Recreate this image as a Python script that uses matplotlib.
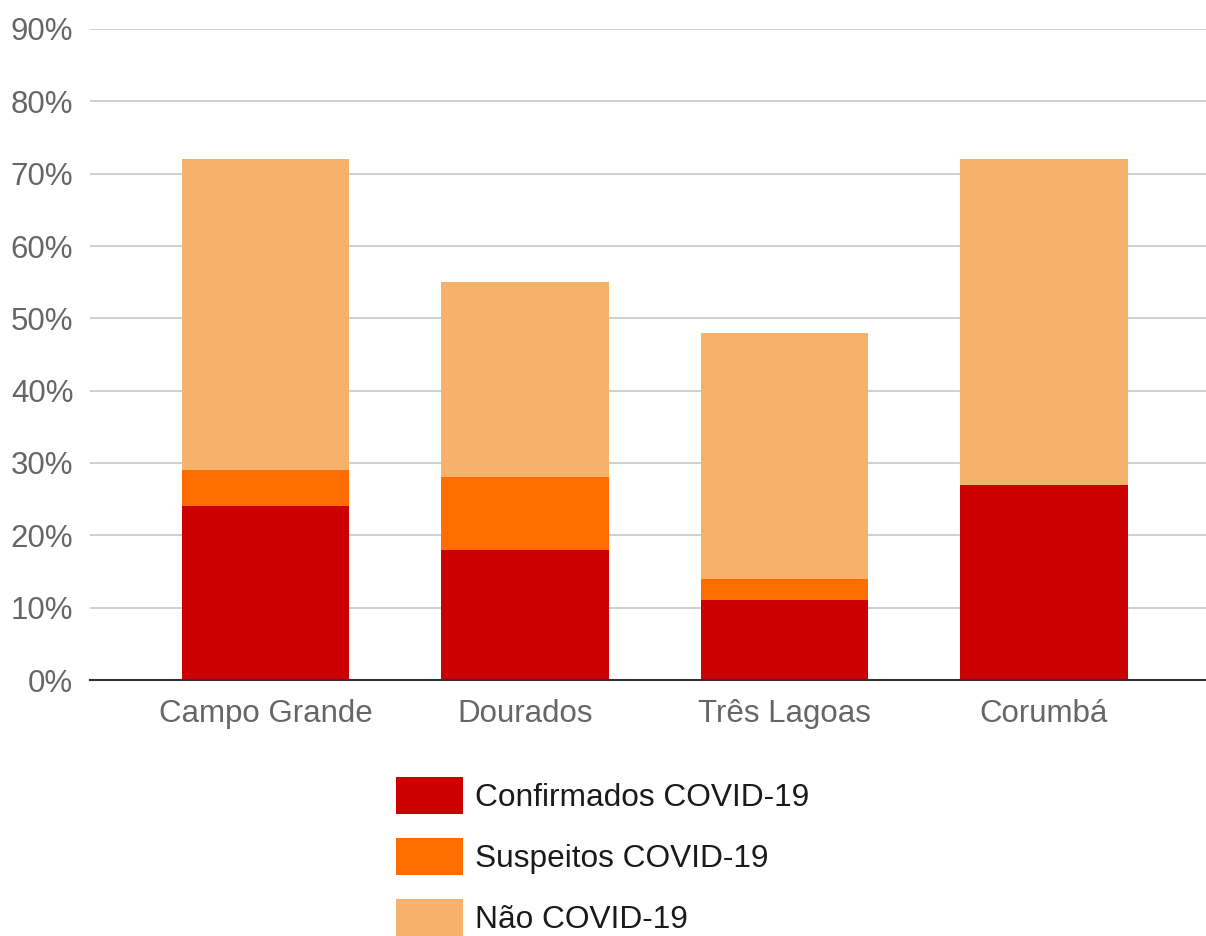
import matplotlib.pyplot as plt
from matplotlib import rcParams
from matplotlib.ticker import FuncFormatter

rcParams['font.family'] = ['Liberation Sans', 'DejaVu Sans']

# data (percent)
cities = ["Campo Grande", "Dourados", "Três Lagoas", "Corumbá"]
confirmados = [24, 18, 11, 27]
suspeitos = [5, 10, 3, 0]
nao_covid = [43, 27, 34, 45]

series_names = ["Confirmados COVID-19", "Suspeitos COVID-19", "Não COVID-19"]
colors = ["#CC0000", "#FF6D00", "#F6B26B"]

fig = plt.figure(figsize=(12.06, 9.36), dpi=100)
ax = fig.add_axes([90 / 1206, (936 - 680) / 936, 1116 / 1206, 651 / 936])

x = list(range(len(cities)))
bottom = [0] * len(cities)
for vals, name, col in zip([confirmados, suspeitos, nao_covid], series_names, colors):
    ax.bar(x, vals, width=0.644, bottom=bottom, color=col, label=name, zorder=3)
    bottom = [b + v for b, v in zip(bottom, vals)]

ax.set_xlim(-0.676, 3.624)
ax.set_ylim(0, 90)
ax.set_yticks(range(0, 91, 10))
ax.yaxis.set_major_formatter(FuncFormatter(lambda v, p: f"{int(v)}%"))
ax.set_xticks(x)
ax.set_xticklabels(cities)

ax.grid(axis='y', color='#cccccc', linewidth=1.3, zorder=0)
for s in ['top', 'right', 'left']:
    ax.spines[s].set_visible(False)
ax.spines['bottom'].set_color('#333333')
ax.spines['bottom'].set_linewidth(1.5)
ax.spines['bottom'].set_zorder(4)
ax.tick_params(axis='both', length=0, labelsize=22.5, colors='#666666')
ax.tick_params(axis='y', pad=12)
ax.tick_params(axis='x', pad=14)

fig.legend(loc='upper center', bbox_to_anchor=(0.5, 1 - 777 / 936), ncol=1,
           frameon=False, fontsize=22.8, handlelength=2.11, handleheight=1.42,
           handletextpad=0.38, labelspacing=0.76, borderpad=0, borderaxespad=0,
           labelcolor='#1a1a1a')

plt.savefig("out.png", dpi=100)
